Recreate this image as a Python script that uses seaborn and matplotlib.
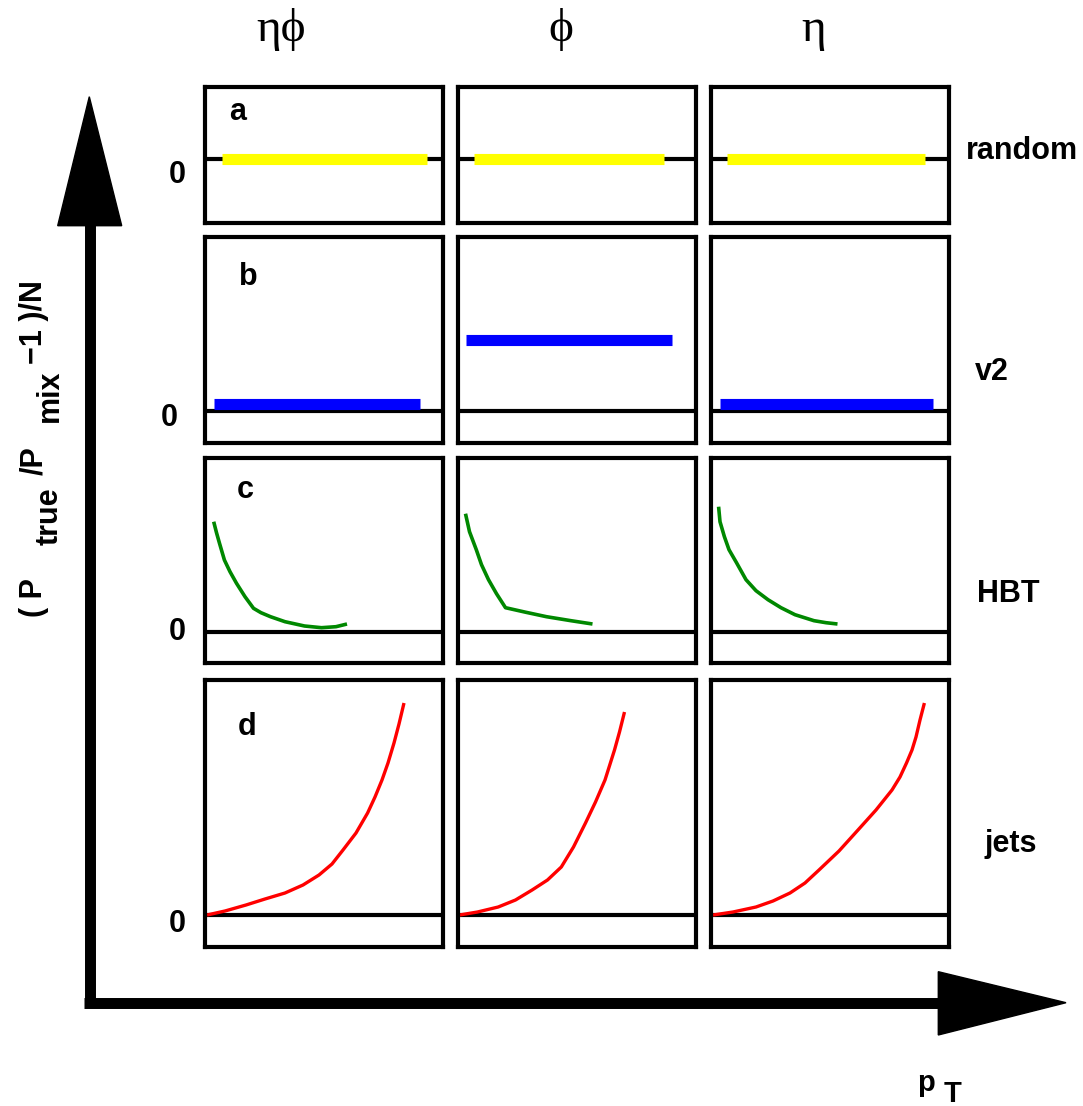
import matplotlib
matplotlib.use("Agg")
import pandas as pd
import seaborn as sns
from matplotlib import pyplot as plt
from matplotlib.patches import Polygon

# column / row labels
columns = ["ηϕ", "ϕ", "η"]
rows = ["random", "v2", "HBT", "jets"]
panel_letters = ["a", "b", "c", "d"]

# row a: random -> flat at zero (pT start, pT end, level)
random_start = [17.0, 16.4, 16.3]
random_end = [221.8, 206.2, 213.9]
random_level = [0.0, 0.0, 0.0]

# row b: v2 -> flat offsets
v2_start = [8.7, 8.1, 8.5]
v2_end = [214.5, 214.5, 221.7]
v2_level = [7.3, 71.0, 7.3]

# row c: HBT -> falling curves
hbt_pt_etaphi = [8.7, 11.5, 14.5, 19.4, 25.0, 31.5, 40.0, 48.5, 56.0, 65.5, 80.0, 99.5, 116.5, 131.0, 142.0]
hbt_etaphi = [110.0, 99.0, 88.4, 71.7, 60.0, 48.4, 35.0, 23.4, 19.0, 15.0, 10.0, 5.7, 4.0, 5.0, 7.7]
hbt_pt_phi = [8.0, 12.0, 18.8, 24.0, 31.0, 39.0, 48.0, 68.0, 89.0, 113.5, 135.0]
hbt_phi = [118.0, 100.0, 82.0, 67.0, 52.0, 38.0, 24.0, 19.5, 15.0, 11.0, 7.7]
hbt_pt_eta = [7.6, 9.0, 13.4, 18.0, 25.5, 35.0, 45.0, 57.0, 70.0, 84.0, 103.0, 115.0, 126.5]
hbt_eta = [125.0, 110.0, 95.0, 82.0, 69.0, 52.0, 41.0, 32.0, 24.0, 17.0, 11.0, 9.0, 7.7]

# row d: jets -> rising curves
jets_pt_etaphi = [2.0, 20.0, 41.0, 60.0, 80.0, 98.0, 114.0, 127.0, 138.0, 151.0, 162.6, 170.0, 177.0,
                  183.0, 189.0, 194.0, 199.0]
jets_etaphi = [0.0, 4.0, 10.0, 16.0, 22.0, 30.0, 40.0, 51.0, 65.0, 82.0, 102.0, 118.0, 135.0,
               152.0, 172.0, 191.0, 212.0]
jets_pt_phi = [2.0, 20.0, 40.7, 58.0, 74.6, 90.0, 103.8, 116.0, 128.0, 138.0, 147.5, 157.0, 162.0, 167.0]
jets_phi = [0.0, 3.0, 8.0, 15.0, 25.0, 35.0, 48.0, 68.0, 92.0, 113.0, 135.0, 165.0, 183.0, 203.0]
jets_pt_eta = [2.0, 22.0, 45.0, 62.0, 79.0, 94.0, 108.0, 128.0, 147.0, 165.0, 181.0, 189.0, 195.5,
               201.0, 205.0, 209.0, 213.4]
jets_eta = [0.0, 3.0, 8.0, 14.0, 22.0, 32.0, 45.0, 64.0, 85.0, 105.0, 125.0, 138.0, 152.0,
            165.0, 178.0, 195.0, 212.0]

W, H = 1083, 1106
col_left = [205, 457.5, 711]
panel_w = 238
row_top = [87.3, 236.7, 458.3, 680]
row_h = [135.4, 206, 205, 267.3]
row_ylim = [(-63.7, 71.7), (-31.7, 174.3), (-31.6, 173.4), (-32.3, 235.0)]


def px_axes(fig, left, top, width, height):
    return fig.add_axes([left / W, 1 - (top + height) / H, width / W, height / H])


def flat_df(start, end, level):
    return pd.DataFrame({"pT": [start, end], "val": [level, level]})


def curve_df(pt, val):
    return pd.DataFrame({"pT": pt, "val": val})


def build_panels():
    data = {}
    for i in range(3):
        data[(0, i)] = (flat_df(random_start[i], random_end[i], random_level[i]), "#ffff00", 8)
        data[(1, i)] = (flat_df(v2_start[i], v2_end[i], v2_level[i]), "#0000ff", 8)
    data[(2, 0)] = (curve_df(hbt_pt_etaphi, hbt_etaphi), "#008800", 2.6)
    data[(2, 1)] = (curve_df(hbt_pt_phi, hbt_phi), "#008800", 2.6)
    data[(2, 2)] = (curve_df(hbt_pt_eta, hbt_eta), "#008800", 2.6)
    data[(3, 0)] = (curve_df(jets_pt_etaphi, jets_etaphi), "#ff0000", 2.4)
    data[(3, 1)] = (curve_df(jets_pt_phi, jets_phi), "#ff0000", 2.4)
    data[(3, 2)] = (curve_df(jets_pt_eta, jets_eta), "#ff0000", 2.4)
    return data


def main():
    sns.set_theme(style="white")
    plt.rcParams["font.family"] = ["Liberation Sans", "DejaVu Sans"]
    plt.rcParams["text.color"] = "black"

    fig = plt.figure(figsize=(W / 100, H / 100), dpi=100)

    panels = build_panels()
    for r in range(4):
        for c in range(3):
            ax = px_axes(fig, col_left[c], row_top[r], panel_w, row_h[r])
            df, color, lw = panels[(r, c)]
            ax.axhline(0, color="black", lw=3, zorder=1)
            if r < 2:
                sns.lineplot(data=df, x="pT", y="val", ax=ax, color=color, lw=lw,
                             solid_capstyle="butt", zorder=2)
            else:
                sns.lineplot(data=df, x="pT", y="val", ax=ax, color=color, lw=lw,
                             solid_capstyle="butt", solid_joinstyle="round", zorder=2)
            ax.set_xlim(0, panel_w)
            ax.set_ylim(*row_ylim[r])
            ax.set_xticks([])
            ax.set_yticks([])
            ax.set_xlabel("")
            ax.set_ylabel("")
            for sp in ax.spines.values():
                sp.set_visible(True)
                sp.set_color("black")
                sp.set_linewidth(3)

    # overlay on top for arrows and texts
    over = fig.add_axes([0, 0, 1, 1], zorder=5)
    over.set_xlim(0, W)
    over.set_ylim(H, 0)
    over.axis("off")

    # big axis arrows
    over.plot([89.7, 89.7], [1003, 224], color="black", lw=7.9, solid_capstyle="butt")
    over.plot([84.3, 940], [1002.8, 1002.8], color="black", lw=7.9, solid_capstyle="butt")
    over.add_patch(Polygon([(57.7, 225.7), (121.7, 225.7), (89.3, 96.7)], closed=True, color="black"))
    over.add_patch(Polygon([(938.3, 971.7), (938.3, 1035), (1066, 1002.7)], closed=True, color="black"))

    # column titles
    serif = ["Liberation Serif", "DejaVu Serif"]
    for label, x in zip(columns, [281, 560.5, 813.5]):
        over.text(x, 41, label, ha="center", va="baseline", fontsize=34, family=serif)

    # row labels
    for label, x, y in zip(rows, [1022, 992, 1008, 1011], [159, 380, 602, 852]):
        over.text(x, y, label, ha="center", va="baseline", fontsize=22, fontweight="bold")

    # zero labels
    for x, y in zip([177, 169, 177, 177], [183, 426, 640, 932]):
        over.text(x, y, "0", ha="center", va="baseline", fontsize=22, fontweight="bold")

    # panel letters
    for label, x, y in zip(panel_letters, [238, 248, 245, 247], [120, 285, 498, 735]):
        over.text(x, y, label, ha="center", va="baseline", fontsize=22, fontweight="bold")

    # y label pieces (rotated, with subscripts)
    pieces = [("( P", 42, 617), ("true", 58, 545), ("/P", 42, 475), ("mix", 58, 422), ("\u22121 )/N", 42, 364)]
    for txt, x, y in pieces:
        over.text(x, y, txt, rotation=90, rotation_mode="anchor", ha="left", va="baseline",
                  fontsize=22, fontweight="bold")

    # x label
    over.text(926, 1091, "p", ha="center", va="baseline", fontsize=21, fontweight="bold")
    over.text(953, 1080, "T", ha="center", va="top", fontsize=21, fontweight="bold")

    plt.savefig("out.png", dpi=100)


if __name__ == "__main__":
    main()
